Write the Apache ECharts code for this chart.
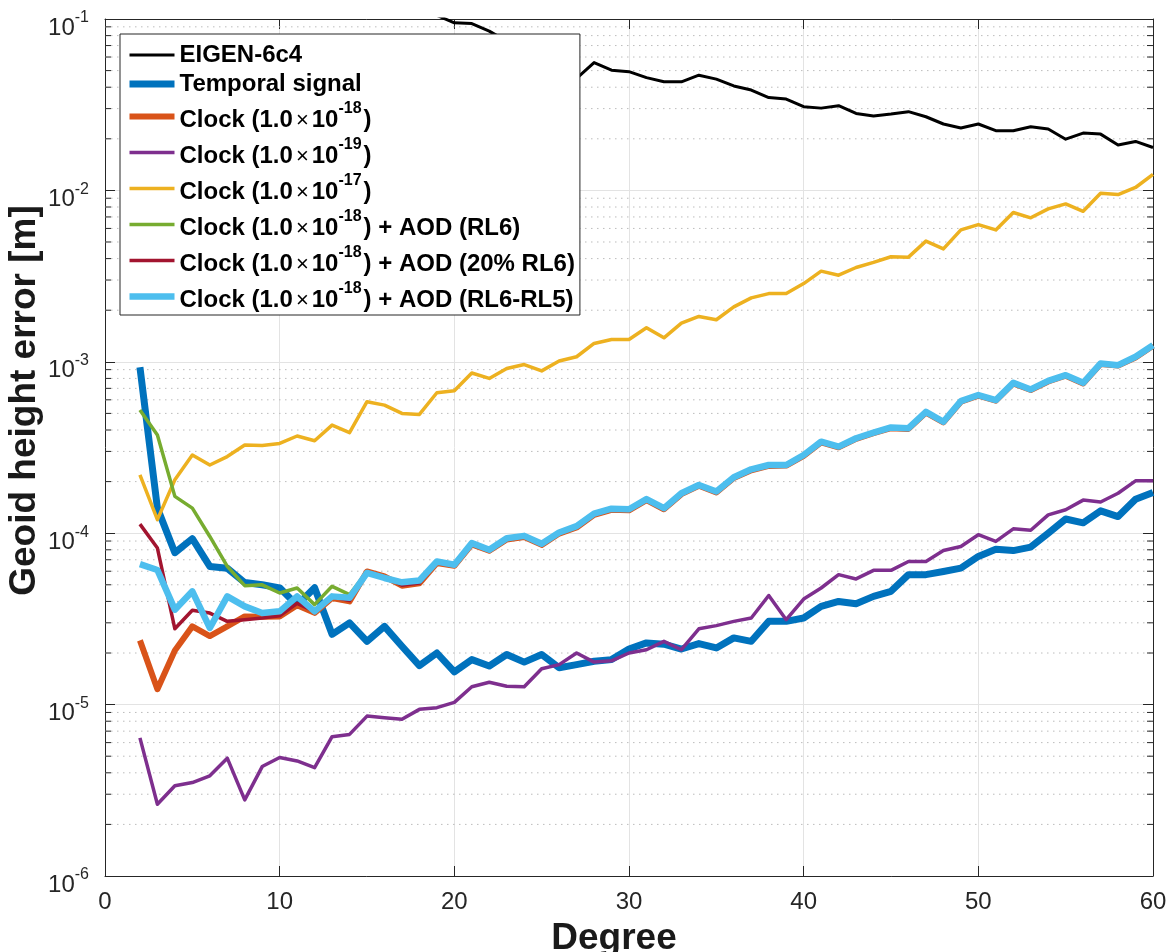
<!DOCTYPE html>
<html>
<head>
<meta charset="utf-8">
<script src="https://cdn.jsdelivr.net/npm/echarts@6/dist/echarts.min.js"></script>
<style>
  html, body { margin: 0; padding: 0; background: #ffffff; }
  #chart { width: 1167px; height: 952px; }
</style>
</head>
<body>
<div id="chart"></div>
<script>
// Spherical-harmonic degrees
const degrees = [2, 3, 4, 5, 6, 7, 8, 9, 10, 11, 12, 13, 14, 15, 16, 17, 18, 19, 20,
  21, 22, 23, 24, 25, 26, 27, 28, 29, 30, 31, 32, 33, 34, 35, 36, 37, 38, 39, 40,
  41, 42, 43, 44, 45, 46, 47, 48, 49, 50, 51, 52, 53, 54, 55, 56, 57, 58, 59, 60];

// Geoid height per degree [m]
const eigen6c4 = [2.5, 1.2, 0.9, 0.7, 0.55, 0.45, 0.38, 0.32, 0.27, 0.23, 0.2, 0.18, 0.16, 0.145, 0.13, 0.12, 0.112, 0.105,
  0.095, 0.094, 0.085, 0.074, 0.066, 0.06, 0.052, 0.045,
  0.0557, 0.0503, 0.0493, 0.0455, 0.043, 0.043, 0.047, 0.0446, 0.0407, 0.0385, 0.0348, 0.0341,
  0.0308, 0.0302, 0.0312, 0.0281, 0.0272, 0.0279, 0.0288, 0.0269, 0.0244, 0.0231, 0.0244,
  0.0223, 0.0223, 0.0235, 0.0228, 0.0199, 0.0216, 0.0213, 0.0184, 0.0193, 0.0178];

const temporalSignal = [9.3e-4, 1.4e-4, 7.7e-5, 9.3e-5, 6.4e-5, 6.25e-5, 5.15e-5, 5.0e-5, 4.8e-5, 3.8e-5,
  4.8e-5, 2.57e-5, 3.0e-5, 2.34e-5, 2.86e-5, 2.19e-5, 1.69e-5, 2.0e-5, 1.55e-5, 1.83e-5,
  1.68e-5, 1.96e-5, 1.77e-5, 1.96e-5, 1.64e-5, 1.71e-5, 1.79e-5, 1.83e-5, 2.11e-5, 2.29e-5,
  2.25e-5, 2.11e-5, 2.27e-5, 2.14e-5, 2.45e-5, 2.34e-5, 3.06e-5, 3.06e-5, 3.2e-5, 3.74e-5,
  4.0e-5, 3.88e-5, 4.28e-5, 4.58e-5, 5.73e-5, 5.73e-5, 5.98e-5, 6.26e-5, 7.32e-5, 8.07e-5,
  7.92e-5, 8.3e-5, 1.0e-4, 1.21e-4, 1.15e-4, 1.35e-4, 1.25e-4, 1.58e-4, 1.73e-4];

const clock18 = [2.37e-5, 1.23e-5, 2.07e-5, 2.86e-5, 2.51e-5, 2.86e-5, 3.27e-5, 3.25e-5, 3.27e-5, 3.8e-5,
  3.43e-5, 4.19e-5, 4.0e-5, 5.98e-5, 5.6e-5, 4.94e-5, 5.1e-5, 6.7e-5,
  6.45e-5, 8.6e-5, 7.9e-5, 9.2e-5, 9.5e-5, 8.55e-5, 9.95e-5, 1.08e-4, 1.28e-4, 1.37e-4, 1.36e-4,
  1.56e-4, 1.38e-4, 1.69e-4, 1.89e-4, 1.73e-4, 2.1e-4, 2.33e-4, 2.47e-4, 2.48e-4, 2.83e-4,
  3.39e-4, 3.17e-4, 3.55e-4, 3.83e-4, 4.1e-4, 4.06e-4, 5.05e-4, 4.43e-4, 5.85e-4, 6.35e-4,
  5.93e-4, 7.48e-4, 6.85e-4, 7.68e-4, 8.3e-4, 7.48e-4, 9.7e-4, 9.5e-4, 1.06e-3, 1.24e-3];

const clock19 = [6.4e-6, 2.62e-6, 3.36e-6, 3.51e-6, 3.84e-6, 4.87e-6, 2.78e-6, 4.35e-6, 4.91e-6, 4.69e-6,
  4.29e-6, 6.5e-6, 6.7e-6, 8.57e-6, 8.39e-6, 8.21e-6, 9.38e-6, 9.6e-6, 1.03e-5, 1.27e-5,
  1.35e-5, 1.28e-5, 1.27e-5, 1.62e-5, 1.71e-5, 2.0e-5, 1.77e-5, 1.8e-5, 2.0e-5, 2.09e-5,
  2.34e-5, 2.09e-5, 2.77e-5, 2.89e-5, 3.06e-5, 3.2e-5, 4.33e-5, 3.13e-5, 4.13e-5, 4.79e-5,
  5.73e-5, 5.41e-5, 6.07e-5, 6.07e-5, 6.84e-5, 6.84e-5, 7.92e-5, 8.37e-5, 9.8e-5, 8.96e-5,
  1.06e-4, 1.04e-4, 1.28e-4, 1.37e-4, 1.56e-4, 1.52e-4, 1.71e-4, 2.02e-4, 2.02e-4];

const clock17 = [2.19e-4, 1.2e-4, 2.05e-4, 2.86e-4, 2.5e-4, 2.8e-4, 3.27e-4, 3.25e-4, 3.34e-4, 3.69e-4,
  3.46e-4, 4.27e-4, 3.86e-4, 5.85e-4, 5.59e-4, 5.0e-4, 4.93e-4, 6.6e-4, 6.78e-4,
  8.6e-4, 8.0e-4, 9.14e-4, 9.64e-4, 8.85e-4, 1.01e-3, 1.07e-3, 1.28e-3, 1.35e-3, 1.35e-3,
  1.58e-3, 1.38e-3, 1.68e-3, 1.84e-3, 1.76e-3, 2.09e-3, 2.36e-3, 2.5e-3, 2.5e-3, 2.86e-3,
  3.38e-3, 3.2e-3, 3.55e-3, 3.8e-3, 4.1e-3, 4.08e-3, 5.06e-3, 4.56e-3, 5.88e-3, 6.32e-3,
  5.88e-3, 7.43e-3, 6.92e-3, 7.8e-3, 8.34e-3, 7.55e-3, 9.62e-3, 9.46e-3, 1.04e-2, 1.24e-2];

const clock18AodRL6 = [5.23e-4, 3.74e-4, 1.64e-4, 1.40e-4, 9.57e-5, 6.4e-5, 4.94e-5, 5.0e-5, 4.48e-5, 4.79e-5,
  3.83e-5, 4.9e-5, 4.38e-5, 5.95e-5, 5.55e-5, 5.0e-5, 5.15e-5, 6.75e-5,
  6.5e-5, 8.65e-5, 7.95e-5, 9.25e-5, 9.55e-5, 8.6e-5, 1.0e-4, 1.09e-4, 1.29e-4, 1.38e-4, 1.37e-4,
  1.57e-4, 1.39e-4, 1.7e-4, 1.9e-4, 1.74e-4, 2.11e-4, 2.35e-4, 2.49e-4, 2.49e-4, 2.85e-4,
  3.4e-4, 3.19e-4, 3.57e-4, 3.85e-4, 4.12e-4, 4.08e-4, 5.08e-4, 4.45e-4, 5.88e-4, 6.38e-4,
  5.96e-4, 7.5e-4, 6.88e-4, 7.7e-4, 8.33e-4, 7.5e-4, 9.74e-4, 9.53e-4, 1.065e-3, 1.245e-3];

const clock18Aod20 = [1.13e-4, 8.19e-5, 2.77e-5, 3.55e-5, 3.42e-5, 3.06e-5, 3.13e-5, 3.2e-5, 3.3e-5, 3.9e-5,
  3.5e-5, 4.25e-5, 4.05e-5, 5.96e-5, 5.58e-5, 4.97e-5, 5.12e-5, 6.72e-5,
  6.47e-5, 8.62e-5, 7.92e-5, 9.22e-5, 9.52e-5, 8.57e-5, 9.97e-5, 1.085e-4, 1.285e-4, 1.375e-4, 1.365e-4,
  1.565e-4, 1.385e-4, 1.695e-4, 1.895e-4, 1.735e-4, 2.105e-4, 2.34e-4, 2.48e-4, 2.485e-4, 2.84e-4,
  3.395e-4, 3.18e-4, 3.56e-4, 3.84e-4, 4.11e-4, 4.07e-4, 5.06e-4, 4.44e-4, 5.86e-4, 6.36e-4,
  5.94e-4, 7.49e-4, 6.86e-4, 7.69e-4, 8.31e-4, 7.49e-4, 9.72e-4, 9.51e-4, 1.062e-3, 1.242e-3];

const clock18AodDiff = [6.6e-5, 6.1e-5, 3.58e-5, 4.58e-5, 2.8e-5, 4.28e-5, 3.74e-5, 3.42e-5, 3.5e-5, 4.28e-5,
  3.5e-5, 4.28e-5, 4.2e-5, 5.86e-5, 5.48e-5, 5.17e-5, 5.3e-5, 6.84e-5, 6.55e-5, 8.75e-5,
  8.0e-5, 9.35e-5, 9.65e-5, 8.68e-5, 1.01e-4, 1.10e-4, 1.30e-4, 1.39e-4, 1.38e-4, 1.58e-4,
  1.40e-4, 1.71e-4, 1.91e-4, 1.75e-4, 2.12e-4, 2.36e-4, 2.5e-4, 2.5e-4, 2.86e-4, 3.42e-4,
  3.2e-4, 3.58e-4, 3.86e-4, 4.14e-4, 4.1e-4, 5.1e-4, 4.47e-4, 5.9e-4, 6.4e-4, 5.98e-4,
  7.54e-4, 6.9e-4, 7.74e-4, 8.36e-4, 7.54e-4, 9.77e-4, 9.56e-4, 1.07e-3, 1.25e-3];

// Axis ticks
const xTicks = [0, 10, 20, 30, 40, 50, 60];
const yDecades = [1e-6, 1e-5, 1e-4, 1e-3, 1e-2];
const minorSteps = [2, 3, 4, 5, 6, 7, 8, 9];

const FONT = '"Liberation Sans", Arial, Helvetica, sans-serif';
const AXIS_COLOR = '#262626';

const curves = [
  { name: 'EIGEN-6c4', values: eigen6c4, color: '#000000', width: 3 },
  { name: 'Temporal signal', values: temporalSignal, color: '#0072BD', width: 7 },
  { name: 'Clock (1.0×10^-18)', values: clock18, color: '#D95319', width: 6 },
  { name: 'Clock (1.0×10^-19)', values: clock19, color: '#7E2F8E', width: 3.5 },
  { name: 'Clock (1.0×10^-17)', values: clock17, color: '#EDB120', width: 3.5 },
  { name: 'Clock (1.0×10^-18) + AOD (RL6)', values: clock18AodRL6, color: '#77AC30', width: 3.5 },
  { name: 'Clock (1.0×10^-18) + AOD (20% RL6)', values: clock18Aod20, color: '#A2142F', width: 3.5 },
  { name: 'Clock (1.0×10^-18) + AOD (RL6-RL5)', values: clock18AodDiff, color: '#4DBEEE', width: 6.5 }
];

// Minor log grid positions (2..9 within each decade)
const minorValues = [];
yDecades.forEach(d => minorSteps.forEach(m => minorValues.push([0, d * m])));

function legendLabel(name) {
  const m = name.match(/^(.*)×10\^(-?\d+)\)(.*)$/);
  if (!m) return '{p|' + name + '}';
  return '{t|' + m[1] + '}{x|×}{t|10}{s|' + m[2] + '}{t|)' + m[3] + '}';
}

function powerLabel(v) {
  const e = Math.round(Math.log10(v));
  return '{b|10}{s|' + e + '}';
}

const lineSeries = curves.map(c => ({
  name: c.name,
  type: 'line',
  xAxisIndex: 0,
  yAxisIndex: 0,
  data: degrees.map((d, i) => [d, c.values[i]]),
  symbol: 'none',
  clip: true,
  color: c.color,
  lineStyle: { color: c.color, width: c.width, join: 'round' },
  emphasis: { disabled: true },
  z: 3
}));

const minorGrid = {
  name: 'minor-grid',
  type: 'custom',
  xAxisIndex: 0,
  yAxisIndex: 0,
  silent: true,
  z: 1,
  data: minorValues,
  renderItem: function (params, api) {
    const v = api.value(1);
    const a = api.coord([0, v]);
    const b = api.coord([60, v]);
    return {
      type: 'group',
      children: [
        { type: 'line', shape: { x1: a[0], y1: a[1], x2: b[0], y2: b[1] },
          style: { stroke: '#bcbcbc', lineWidth: 1, lineDash: [1.5, 4.5] } },
        { type: 'line', shape: { x1: a[0], y1: a[1], x2: a[0] + 6, y2: a[1] },
          style: { stroke: AXIS_COLOR, lineWidth: 1 } },
        { type: 'line', shape: { x1: b[0] - 6, y1: b[1], x2: b[0], y2: b[1] },
          style: { stroke: AXIS_COLOR, lineWidth: 1 } }
      ]
    };
  }
};

const chart = echarts.init(document.getElementById('chart'), null, { renderer: 'canvas' });

chart.setOption({
  animation: false,
  backgroundColor: '#ffffff',
  textStyle: { fontFamily: FONT },
  grid: { left: 105, right: 14, top: 19, bottom: 76, containLabel: false, outerBoundsMode: 'none' },
  legend: {
    orient: 'vertical',
    left: 120,
    top: 34,
    itemWidth: 45,
    itemHeight: 14,
    itemGap: 5,
    padding: [9, 5, 3, 6],
    backgroundColor: '#ffffff',
    borderColor: '#262626',
    borderWidth: 1,
    borderRadius: 0,
    selectedMode: false,
    data: curves.map(c => ({
      name: c.name,
      itemStyle: { opacity: 0 },
      lineStyle: { color: c.color, width: c.width, cap: 'butt' }
    })),
    formatter: legendLabel,
    textStyle: {
      fontFamily: FONT,
      color: '#000000',
      rich: {
        p: { fontFamily: FONT, fontSize: 24, fontWeight: 'bold', color: '#000', lineHeight: 25 },
        t: { fontFamily: FONT, fontSize: 24, fontWeight: 'bold', color: '#000', lineHeight: 26, verticalAlign: 'bottom' },
        x: { fontFamily: FONT, fontSize: 22, fontWeight: 'normal', color: '#000', lineHeight: 24, verticalAlign: 'bottom', padding: [0, 3, 0, 3] },
        s: { fontFamily: FONT, fontSize: 16, fontWeight: 'bold', color: '#000', lineHeight: 31, verticalAlign: 'top', padding: [0, 2, 0, 0] }
      }
    }
  },
  xAxis: [
    {
      type: 'value', min: 0, max: 60, interval: 10, position: 'bottom',
      name: 'Degree', nameLocation: 'middle', nameGap: 44,
      nameTextStyle: { fontFamily: FONT, fontSize: 37, fontWeight: 'bold', color: '#1a1a1a',
        padding: [0, 30, 0, 0] },
      axisLine: { onZero: false, lineStyle: { color: AXIS_COLOR, width: 1 } },
      axisTick: { inside: true, length: 10, lineStyle: { color: AXIS_COLOR } },
      axisLabel: { fontFamily: FONT, fontSize: 24, color: AXIS_COLOR, margin: 14,
        customValues: xTicks },
      splitLine: { show: true, lineStyle: { color: '#e3e3e3', width: 1 } }
    },
    {
      type: 'value', min: 0, max: 60, interval: 10, position: 'top',
      axisLine: { onZero: false, lineStyle: { color: AXIS_COLOR, width: 1 } },
      axisTick: { inside: true, length: 10, lineStyle: { color: AXIS_COLOR } },
      axisLabel: { show: false },
      splitLine: { show: false }
    }
  ],
  yAxis: [
    {
      type: 'log', logBase: 10, min: 1e-6, max: 1e-1, position: 'left',
      name: 'Geoid height error [m]', nameLocation: 'middle', nameGap: 62, nameRotate: 90,
      nameMoveOverlap: false,
      nameTextStyle: { fontFamily: FONT, fontSize: 37, fontWeight: 'bold', color: '#1a1a1a',
        padding: [0, 0, 0, 94] },
      axisLine: { onZero: false, lineStyle: { color: AXIS_COLOR, width: 1 } },
      axisTick: { inside: true, length: 10, lineStyle: { color: AXIS_COLOR } },
      axisLabel: {
        margin: 16,
        padding: [12, 0, 0, 0],
        formatter: powerLabel,
        rich: {
          b: { fontFamily: FONT, fontSize: 24, color: AXIS_COLOR, lineHeight: 26, verticalAlign: 'bottom' },
          s: { fontFamily: FONT, fontSize: 16, color: AXIS_COLOR, lineHeight: 30, verticalAlign: 'top' }
        }
      },
      splitLine: { show: true, lineStyle: { color: '#e3e3e3', width: 1 } }
    },
    {
      type: 'log', logBase: 10, min: 1e-6, max: 1e-1, position: 'right',
      axisLine: { onZero: false, lineStyle: { color: AXIS_COLOR, width: 1 } },
      axisTick: { inside: true, length: 10, lineStyle: { color: AXIS_COLOR } },
      axisLabel: { show: false },
      splitLine: { show: false }
    }
  ],
  series: [minorGrid].concat(lineSeries)
});
</script>
</body>
</html>
